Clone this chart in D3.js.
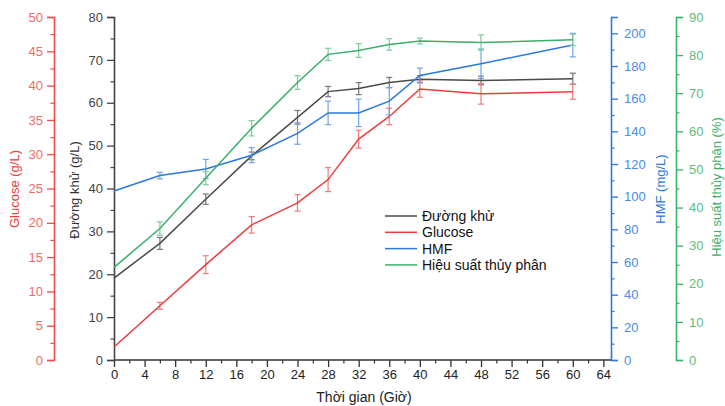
<!DOCTYPE html>
<html>
<head>
<meta charset="utf-8">
<script src="https://cdn.jsdelivr.net/npm/d3@7"></script>
<style>
  body { margin: 0; background: #fff; }
  svg { font-family: "Liberation Sans", Arial, sans-serif; }
</style>
</head>
<body>
<div id="chart"></div>
<script>
// values
var time = [0, 6, 12, 18, 24, 28, 32, 36, 40, 48, 60];
var duongKhu = [19.1, 27.2, 37.5, 47.6, 56.6, 62.6, 63.3, 64.7, 65.5, 65.2, 65.6];
var duongKhuErr = [0, 1.4, 1.2, 0.9, 1.6, 1.2, 1.4, 1.2, 0.8, 1.0, 1.3];
var glucose = [1.9, 7.9, 13.9, 19.7, 22.9, 26.3, 32.2, 35.5, 39.5, 38.8, 39.1];
var glucoseErr = [0, 0.5, 1.3, 1.2, 1.2, 1.75, 1.3, 1.2, 1.2, 1.5, 1.1];
var hmf = [103.5, 112.9, 117, 125.4, 138.7, 151.3, 151.3, 158.5, 174.2, 181.4, 192.8];
var hmfErr = [0, 2, 5.8, 4.6, 6.6, 7.2, 8.4, 8.4, 4.5, 9, 7.2];
var hieuSuat = [24.3, 34.5, 47.7, 60.8, 72.8, 80.2, 81.2, 82.8, 83.7, 83.3, 84];
var hieuSuatErr = [0, 1.75, 1.7, 2, 1.8, 1.6, 1.8, 1.5, 0.75, 2, 1.5];
var legendNames = ["Đường khử", "Glucose", "HMF", "Hiệu suất thủy phân"];

var svg_dx = 725, svg_dy = 406;
var plot = { left: 114, right: 611, top: 17, bottom: 360 };

var x = d3.scaleLinear().domain([0, 65]).range([plot.left, plot.right]);
var yDk = d3.scaleLinear().domain([0, 80]).range([plot.bottom, plot.top]);
var yGl = d3.scaleLinear().domain([0, 50]).range([plot.bottom, plot.top]);
var yHmf = d3.scaleLinear().domain([0, 210]).range([plot.bottom, plot.top]);
var yHs = d3.scaleLinear().domain([0, 90]).range([plot.bottom, plot.top]);

var svg = d3.select("#chart").append("svg")
  .attr("width", svg_dx)
  .attr("height", svg_dy);

// series: value, error, scale, line colour, error bar colour
var series = [
  { v: duongKhu, e: duongKhuErr, y: yDk, c: "#4a4a4a", bar: "#777" },
  { v: glucose, e: glucoseErr, y: yGl, c: "#ef3b3b", bar: "#f37a7a" },
  { v: hmf, e: hmfErr, y: yHmf, c: "#2a78e0", bar: "#6fa4ea" },
  { v: hieuSuat, e: hieuSuatErr, y: yHs, c: "#3bb06a", bar: "#7ccb98" }
];

// helper to draw an axis with minor ticks
function drawAxis(g, axisFn, scale, major, minor, color, textColor, pad) {
  var minorAxis = axisFn(scale).tickValues(minor).tickSize(3.5).tickFormat("");
  var majorAxis = axisFn(scale).tickValues(major).tickSize(7).tickPadding(pad);
  g.append("g").call(minorAxis).call(s => s.select(".domain").remove())
    .selectAll("line").attr("stroke", color).attr("stroke-width", 1.2);
  var a = g.append("g").call(majorAxis);
  a.select(".domain").attr("stroke", color).attr("stroke-width", 1.6);
  a.selectAll("line").attr("stroke", color).attr("stroke-width", 1.3);
  a.selectAll("text").attr("fill", textColor).style("font-size", "13px");
  return a;
}

// x axis
var gx = svg.append("g").attr("transform", "translate(0," + plot.bottom + ")");
drawAxis(gx, d3.axisBottom, x, d3.range(0, 65, 4), d3.range(2, 65, 4), "#333", "#222", 3);
gx.selectAll(".domain").attr("d", "M" + plot.left + ",0H" + plot.right);

// left main axis
var gDk = svg.append("g").attr("transform", "translate(" + plot.left + ",0)");
drawAxis(gDk, d3.axisLeft, yDk, d3.range(0, 81, 10), d3.range(5, 80, 10), "#444", "#444", 4);

// glucose axis
var gGl = svg.append("g").attr("transform", "translate(54,0)");
drawAxis(gGl, d3.axisLeft, yGl, d3.range(0, 51, 5), d3.range(2.5, 50, 5), "#f04a4a", "#f06a6a", 4);

// HMF axis
var gH = svg.append("g").attr("transform", "translate(" + plot.right + ",0)");
drawAxis(gH, d3.axisRight, yHmf, d3.range(0, 201, 20), d3.range(10, 211, 20), "#2a78e0", "#4a8ce6", 6);

// hiệu suất axis
var gS = svg.append("g").attr("transform", "translate(676,0)");
drawAxis(gS, d3.axisRight, yHs, d3.range(0, 91, 10), d3.range(5, 90, 10), "#3bb06a", "#5dbd80", 6);

// axis titles
svg.append("text")
  .attr("transform", "translate(19,189) rotate(-90)")
  .attr("text-anchor", "middle").attr("fill", "#ef3b3b")
  .style("font-size", "13px").text("Glucose (g/L)");
svg.append("text")
  .attr("transform", "translate(79,190) rotate(-90)")
  .attr("text-anchor", "middle").attr("fill", "#333")
  .style("font-size", "13px").text("Đường khử (g/L)");
svg.append("text")
  .attr("transform", "translate(665,189) rotate(-90)")
  .attr("text-anchor", "middle").attr("fill", "#2a78e0")
  .style("font-size", "13px").text("HMF (mg/L)");
svg.append("text")
  .attr("transform", "translate(721,187) rotate(-90)")
  .attr("text-anchor", "middle").attr("fill", "#3bb06a")
  .style("font-size", "13px").text("Hiệu suất thủy phân (%)");
svg.append("text")
  .attr("x", 364).attr("y", 402)
  .attr("text-anchor", "middle").attr("fill", "#222")
  .style("font-size", "14px").text("Thời gian (Giờ)");

// lines and error bars
series.forEach(function(s) {
  var line = d3.line()
    .x((d, i) => x(time[i]))
    .y(d => s.y(d));

  var bars = svg.append("g");
  time.forEach(function(t, i) {
    if (!s.e[i]) return;
    var cx = x(t), y0 = s.y(s.v[i] - s.e[i]), y1 = s.y(s.v[i] + s.e[i]);
    bars.append("line").attr("x1", cx).attr("x2", cx).attr("y1", y0).attr("y2", y1);
    bars.append("line").attr("x1", cx - 3).attr("x2", cx + 3).attr("y1", y0).attr("y2", y0);
    bars.append("line").attr("x1", cx - 3).attr("x2", cx + 3).attr("y1", y1).attr("y2", y1);
  });
  bars.selectAll("line").attr("stroke", s.bar).attr("stroke-width", 1.2);

  svg.append("path")
    .datum(s.v)
    .attr("fill", "none")
    .attr("stroke", s.c)
    .attr("stroke-width", 1.5)
    .attr("d", line);
});

// legend
var legend = svg.append("g").attr("transform", "translate(385,216)");
legendNames.forEach(function(name, i) {
  var row = legend.append("g").attr("transform", "translate(0," + (i * 16.3) + ")");
  row.append("line").attr("x1", 0).attr("x2", 32).attr("y1", 0).attr("y2", 0)
    .attr("stroke", series[i].c).attr("stroke-width", 1.5);
  row.append("text").attr("x", 37).attr("y", 5)
    .attr("fill", "#111").style("font-size", "14px").text(name);
});
</script>
</body>
</html>
